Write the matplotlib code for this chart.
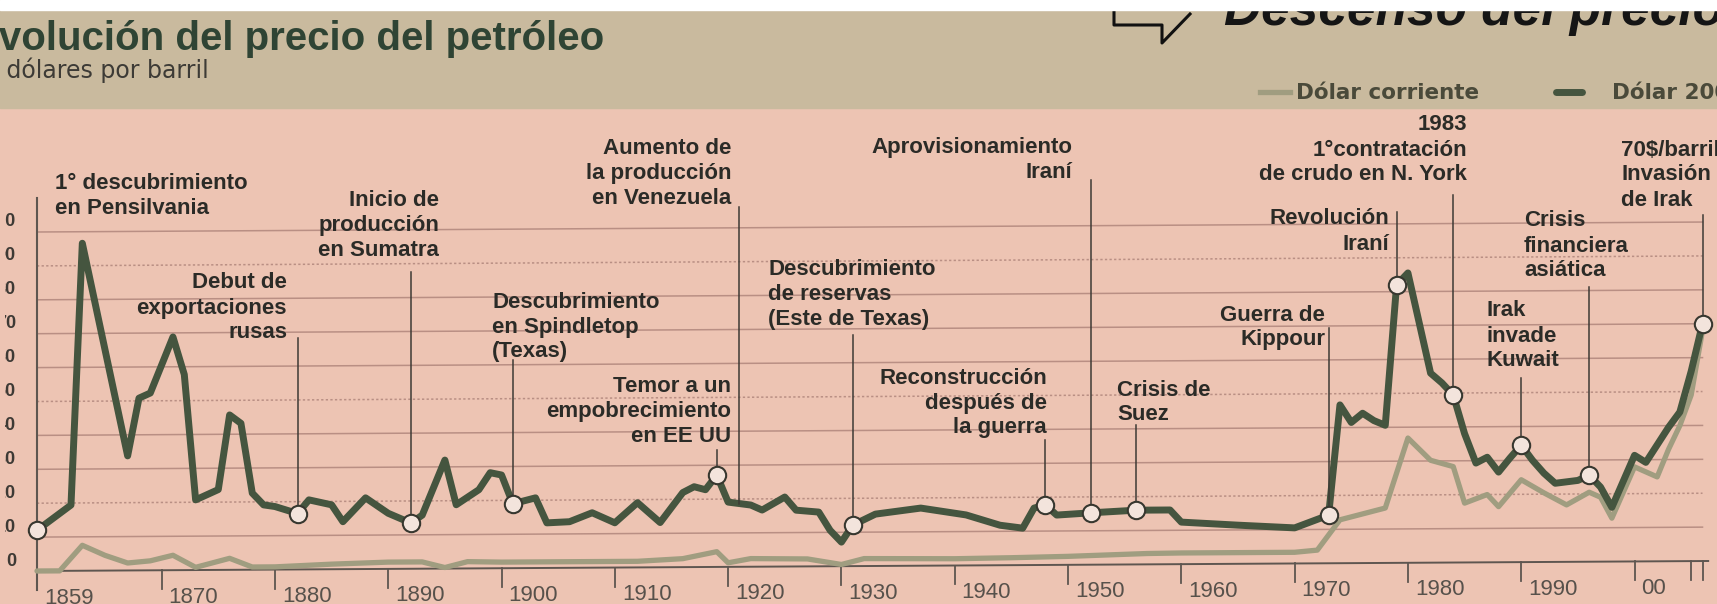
import matplotlib.pyplot as plt
import matplotlib.transforms as mtransforms
from matplotlib.lines import Line2D
from matplotlib.patches import Rectangle
import numpy as np

# Precio del barril en dólares de 2006
anios_2006 = [1859, 1862, 1863, 1867, 1868, 1869, 1871, 1872, 1873, 1875,
              1876, 1877, 1878, 1879, 1880, 1882, 1883, 1885, 1886, 1888,
              1890, 1892, 1893, 1895, 1896, 1898, 1899, 1900, 1901, 1903,
              1904, 1906, 1908, 1910, 1912, 1914, 1916, 1917, 1918, 1919,
              1920, 1922, 1923, 1925, 1926, 1928, 1929, 1930, 1931, 1933,
              1937, 1941, 1944, 1946, 1947, 1948, 1949, 1952, 1956, 1959,
              1960, 1965, 1970, 1973, 1974, 1975, 1976, 1977, 1978, 1979,
              1980, 1982, 1983, 1984, 1985, 1986, 1987, 1988, 1989, 1990,
              1991, 1992, 1993, 1995, 1996, 1997, 1998, 2000, 2001, 2003,
              2004, 2005, 2006]
precio_2006 = [12, 19.4, 96.6, 33.8, 50.8, 52.3, 68.8, 57.7, 20.7, 23.7,
               45.7, 43.2, 22.6, 19.1, 18.6, 16.5, 20.5, 19, 14, 21,
               16.4, 13.5, 15.8, 32, 18.8, 23.2, 28.2, 27.5, 19, 20.7,
               13.3, 13.6, 16.2, 13.2, 19.1, 13.2, 22, 23.7, 22.8, 27.1,
               19.1, 18.2, 16.7, 20.5, 16.6, 16, 10.6, 7.1, 12.1, 15.3,
               17, 14.9, 11.8, 10.9, 16.8, 17.7, 14.7, 15.3, 16, 16,
               12.4, 11.4, 10.5, 14.2, 46.7, 41.5, 44.2, 42, 40.6, 82,
               85.5, 55.9, 53, 49.4, 38, 29.3, 31, 26.6, 30.7, 34.5,
               30, 26.2, 23.2, 24, 25.5, 22, 16, 31.3, 29.2, 39.5,
               44, 56, 70]

# Precio del barril en dólares corrientes
anios_corr = [1859, 1861, 1863, 1865, 1867, 1869, 1871, 1873, 1876, 1878,
              1880, 1885, 1890, 1893, 1895, 1897, 1900, 1912, 1916, 1919,
              1920, 1922, 1927, 1930, 1932, 1940, 1945, 1950, 1957, 1960,
              1970, 1972, 1974, 1978, 1980, 1982, 1984, 1985, 1987, 1988,
              1990, 1992, 1994, 1996, 1997, 1998, 2000, 2002, 2003, 2004,
              2005, 2006]
precio_corr = [0, 0, 7.5, 4.5, 2.2, 2.8, 4.4, 0.8, 3.4, 0.8,
               0.8, 1.5, 2, 2, 0.3, 2, 1.8, 1.8, 2.5, 4.5,
               1.2, 2.4, 2.2, 0.5, 2.2, 2, 2.2, 2.5, 3.2, 3.3,
               3.3, 3.9, 12.8, 16.2, 36.8, 30.2, 28.3, 17.5, 20, 16.4,
               24.3, 20.4, 16.8, 20.5, 19, 12.8, 27.9, 24.9, 33, 40,
               49, 68]

# Acontecimientos señalados sobre la curva
evento_anio = [1859, 1882, 1892, 1901, 1919, 1921, 1931, 1948, 1952, 1956,
               1973, 1979, 1984, 1990, 1996, 2006]
evento_texto = [
    "1° descubrimiento\nen Pensilvania",
    "Debut de\nexportaciones\nrusas",
    "Inicio de\nproducción\nen Sumatra",
    "Descubrimiento\nen Spindletop\n(Texas)",
    "Temor a un\nempobrecimiento\nen EE UU",
    "Aumento de\nla producción\nen Venezuela",
    "Descubrimiento\nde reservas\n(Este de Texas)",
    "Reconstrucción\ndespués de\nla guerra",
    "Aprovisionamiento\nIraní",
    "Crisis de\nSuez",
    "Guerra de\nKippour",
    "Revolución\nIraní",
    "1983\n1°contratación\nde crudo en N. York",
    "Irak\ninvade\nKuwait",
    "Crisis\nfinanciera\nasiática",
    "70$/barril\nInvasión\nde Irak",
]
evento_circulo = [True, True, True, True, True, False, True, True, True, True,
                  True, True, True, True, True, True]

decadas = [1859, 1870, 1880, 1890, 1900, 1910, 1920, 1930, 1940, 1950,
           1960, 1970, 1980, 1990, 2000]
etiquetas_decadas = ["1859", "1870", "1880", "1890", "1900", "1910", "1920",
                     "1930", "1940", "1950", "1960", "1970", "1980", "1990", "00"]
niveles = [0, 10, 20, 30, 40, 50, 60, 70, 80, 90, 100]

# colocación de los rótulos: x en píxeles, y de la primera línea, alineación,
# y arranque superior de la línea guía (None = sin guía)
rotulos = [
    (55, 183, "left", None),
    (287, 283, "right", 338),
    (439, 200, "right", 272),
    (492, 302, "left", 360),
    (731, 386, "right", 450),
    (731, 148, "right", 207),
    (768, 270, "left", 335),
    (1047, 378, "right", 440),
    (1072, 147, "right", 180),
    (1117, 390, "left", 425),
    (1325, 315, "right", 328),
    (1389, 219, "right", 212),
    (1467, 125, "right", 195),
    (1486, 311, "left", 378),
    (1524, 221, "left", 287),
    (1621, 150, "left", 215),
]

W, H = 1717, 604
PINK = "#edc4b3"
TAN = "#c9ba9e"
DARK = "#45553f"
LIGHT = "#a09d80"
GRID = "#b98f84"
AXIS = "#5e5650"
TEXT = "#2b2b27"
SANS = ["Liberation Sans", "DejaVu Sans"]
WIDE = ["DejaVu Sans"]

fig = plt.figure(figsize=(W / 100, H / 100), dpi=100, facecolor=PINK)
ax = fig.add_axes([0, 0, 1, 1])
ax.set_axis_off()
ax.set_zorder(2)
ax.patch.set_visible(False)

# escala: 1859 en x=37 px, 11.33 px por año; 0 $ en y=571 px, 3.39 px por dólar
ax.set_xlim(1859 - 37 / 11.33, 1859 + (W - 37) / 11.33)
ax.set_ylim(-(H - 571) / 3.39, 571 / 3.39)

# ligera inclinación del marco del gráfico
tilt = mtransforms.Affine2D.from_values(1, 0.02, 0, 1, 0, -0.02 * 1859)
tr = tilt + ax.transData


def fx(x):
    return x / W


def fy(y):
    return 1 - y / H


# fondos
fig.add_artist(Rectangle((0, fy(108)), 1, (108 - 10) / H, transform=fig.transFigure,
                         color=TAN, zorder=0))
fig.add_artist(Rectangle((0, fy(10)), 1, 10 / H, transform=fig.transFigure,
                         color="white", zorder=6))

# rejilla horizontal y cifras del eje vertical (cortadas por el borde)
borde = mtransforms.Bbox.from_extents(5, 0, W, H)
for v in niveles:
    if v > 0:
        ax.plot([1859, 2006], [v, v], color=GRID, lw=1.1,
                ls=(0, (1.5, 1.5)) if v in (20, 50, 90) else "-",
                transform=tr, zorder=1)
    t = ax.text(1859, v, str(v),
                transform=mtransforms.offset_copy(tr, fig, x=-21, y=10, units="dots"),
                ha="right", va="center", fontsize=13, fontweight="bold",
                color="#3e3a35", family=SANS)
    t.set_clip_box(borde)
    t.set_clip_on(True)

# ejes
ax.plot([1859, 2006.5], [0, 0], color=AXIS, lw=1.4, transform=tr, zorder=1)
ax.plot([1859, 1859], [110, -5.6], color=AXIS, lw=1.5, transform=tr, zorder=1)
for d, lab in zip(decadas, etiquetas_decadas):
    ax.plot([d, d], [0, -5.6], color=AXIS, lw=1.3, transform=tr, zorder=1)
    ax.text(d, 0, lab, transform=mtransforms.offset_copy(tr, fig, x=7, y=-27, units="dots"),
            ha="left", va="center", fontsize=16, color="#57514b", family=SANS)
for d in [2005, 2006]:
    ax.plot([d, d], [0, -5.6], color=AXIS, lw=1.3, transform=tr, zorder=1)

# series
ax.plot(anios_corr, precio_corr, color=LIGHT, lw=3.8, transform=tr,
        solid_joinstyle="round", solid_capstyle="round", zorder=2)
ax.plot(anios_2006, precio_2006, color=DARK, lw=5, transform=tr,
        solid_joinstyle="round", solid_capstyle="round", zorder=3)

# acontecimientos
inv = tr.inverted()
for anio, texto, circ, (tx, ty, ha, top) in zip(evento_anio, evento_texto,
                                                evento_circulo, rotulos):
    val = np.interp(anio, anios_2006, precio_2006)
    if top is not None:
        xd, _ = tr.transform((anio, val))
        _, vtop = inv.transform((xd, H - top))
        ax.plot([anio, anio], [val, vtop], color="#3d3a35", lw=1.1, transform=tr, zorder=4)
    if circ:
        ax.plot([anio], [val], "o", ms=12.5, mfc="#f3e4dc", mec="#37372f", mew=1.5,
                transform=tr, zorder=5)
    for i, linea in enumerate(texto.split("\n")):
        fig.text(fx(tx), fy(ty + i * 25), linea, ha=ha, va="center", fontsize=16,
                 fontweight="bold", color=TEXT, family=SANS)

# cabecera
fig.text(fx(-28), fy(50), "Evolución del precio del petróleo", ha="left", va="baseline",
         fontsize=29, fontweight="bold", color="#2f4434", family=SANS)
fig.text(fx(-31), fy(78), "En dólares por barril", ha="left", va="baseline",
         fontsize=17, color="#3d3b36", family=WIDE)
fig.text(fx(1224), fy(25), "Descenso del precio", ha="left", va="baseline",
         fontsize=37, fontweight="bold", style="italic", color="#151515", family=SANS)
fig.add_artist(Line2D([fx(1114), fx(1114), fx(1162), fx(1162), fx(1190)],
                      [fy(-5), fy(25), fy(25), fy(43), fy(14)],
                      transform=fig.transFigure, color="#111111", lw=2.2, zorder=4))

# leyenda
fig.add_artist(Line2D([fx(1260), fx(1290)], [fy(92), fy(92)], transform=fig.transFigure,
                      color=LIGHT, lw=3.8, zorder=4))
fig.text(fx(1296), fy(93), "Dólar corriente", ha="left", va="center", fontsize=15.5,
         fontweight="bold", color="#4a4a3a", family=WIDE)
fig.add_artist(Line2D([fx(1556), fx(1582)], [fy(92), fy(92)], transform=fig.transFigure,
                      color=DARK, lw=5, solid_capstyle="round", zorder=4))
fig.text(fx(1612), fy(93), "Dólar 2006", ha="left", va="center", fontsize=15.5,
         fontweight="bold", color="#4a4a3a", family=WIDE)

fig.savefig("out.png", dpi=100, facecolor=PINK)
